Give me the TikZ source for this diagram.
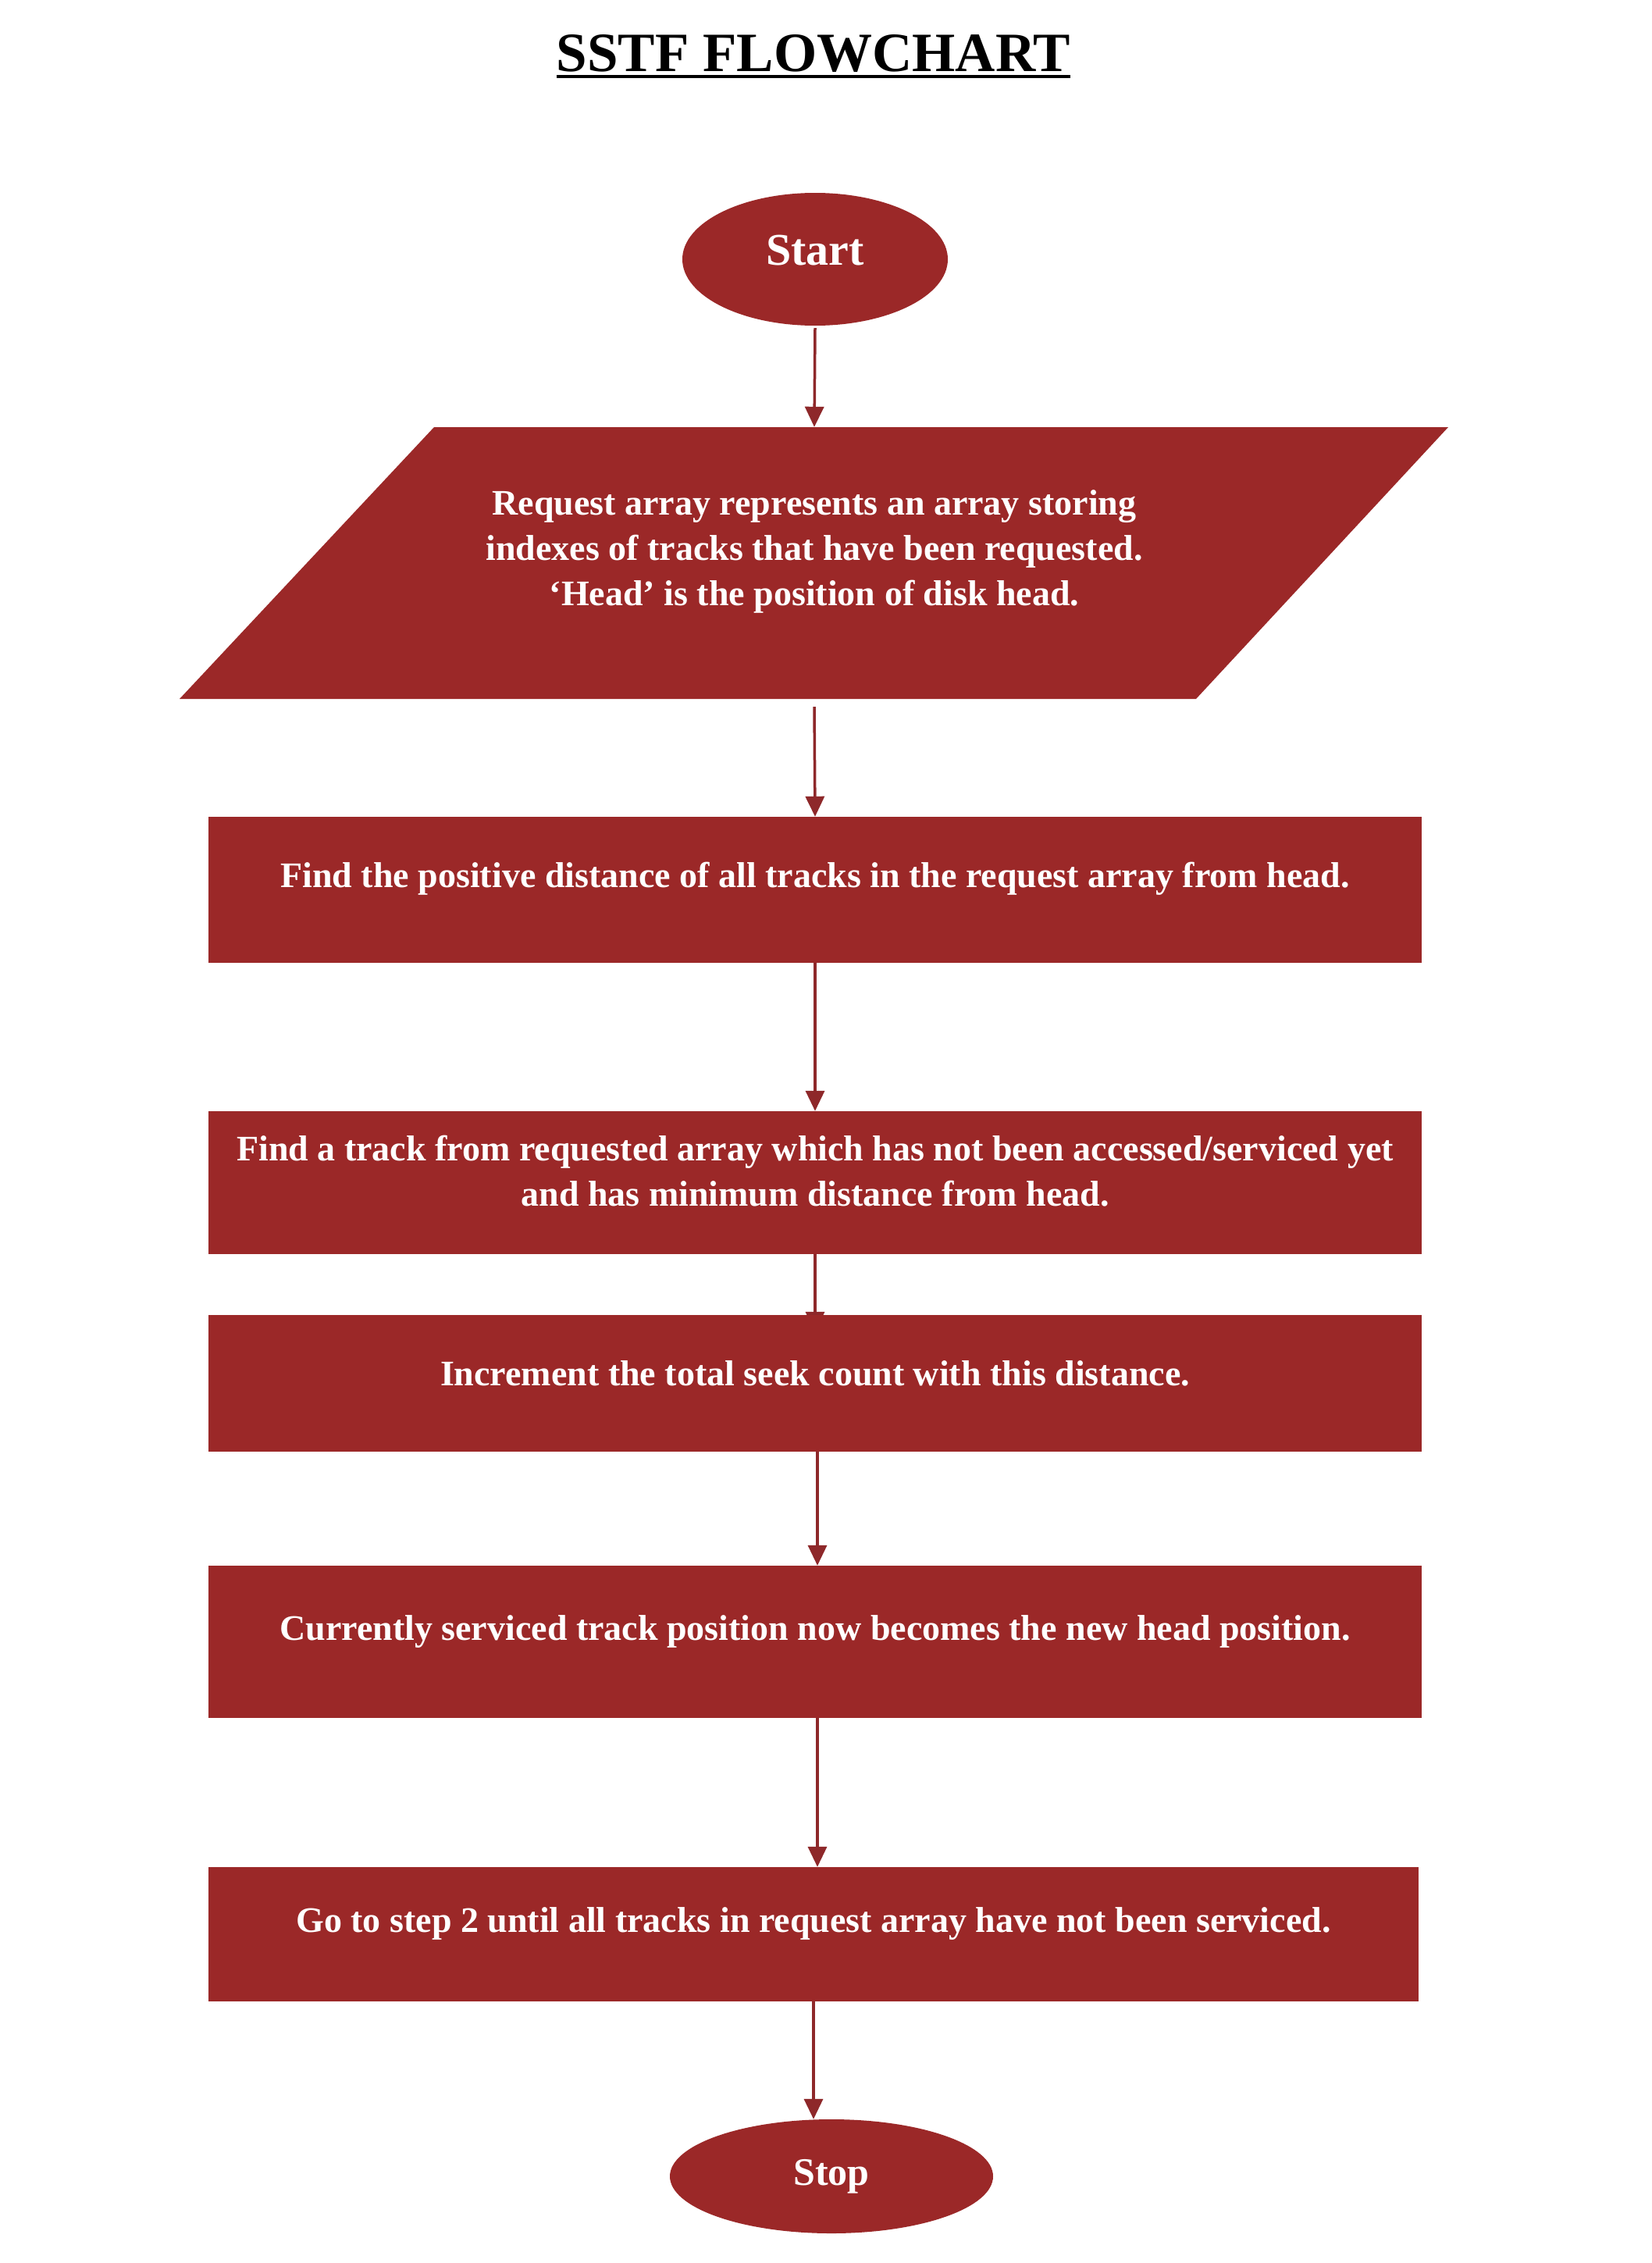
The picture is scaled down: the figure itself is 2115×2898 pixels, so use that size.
\documentclass[tikz,border=0pt]{standalone}
\usepackage{fontspec}
\setmainfont{Liberation Serif}
\usetikzlibrary{shapes.geometric,arrows.meta,backgrounds}
\definecolor{boxred}{RGB}{155,40,40}
\definecolor{arrred}{RGB}{142,40,42}
\begin{document}
\begin{tikzpicture}[x=1pt,y=-1pt,
  procbox/.style={rectangle, fill=boxred, draw=none, inner sep=0pt},
  terminal/.style={ellipse, fill=boxred, draw=none, inner sep=0pt},
  boxtxt/.style={text=white, font=\fontsize{46}{58}\selectfont\bfseries, align=center, inner sep=0pt},
  termtxt/.style={text=white, inner sep=0pt},
  arr/.style={draw=arrred, line width=3.5pt, -{Triangle[length=26pt,width=24pt]}},
  titletxt/.style={font=\fontsize{71}{80}\selectfont\bfseries, inner sep=0pt, anchor=base}
]
\useasboundingbox (0,0) rectangle (2115,2898);

% title
\node[titletxt] (title) at (1042,92) {SSTF FLOWCHART};
\draw[line width=4.5pt] ([yshift=-6pt]title.base west) -- ([yshift=-6pt]title.base east);

% start
\node[terminal, minimum width=340pt, minimum height=170pt] (start) at (1044,332) {};
\node[termtxt, font=\fontsize{58}{60}\selectfont\bfseries] (starttxt) at ([yshift=11pt]start.center) {Start};

% parallelogram
\fill[boxred] (556,547) -- (1855,547) -- (1532,895) -- (230,895) -- cycle;
\node[rectangle, inner sep=0pt, minimum width=1000pt, minimum height=348pt] (para) at (1043,721) {};
\node[boxtxt] (paratxt) at ([yshift=15pt]para.center) {Request array represents an array storing\\indexes of tracks that have been requested.\\‘Head’ is the position of disk head.};

% process boxes
\node[procbox, minimum width=1554pt, minimum height=187pt] (b1) at (1044,1139.5) {};
\node[boxtxt] (b1txt) at ([yshift=14pt]b1.center) {Find the positive distance of all tracks in the request array from head.};

\node[procbox, minimum width=1554pt, minimum height=183pt] (b2) at (1044,1514.5) {};
\node[boxtxt] (b2txt) at ([yshift=15pt]b2.center) {Find a track from requested array which has not been accessed/serviced yet\\and has minimum distance from head.};

\node[procbox, minimum width=1554pt, minimum height=175pt] (b3) at (1044,1771.5) {};
\node[boxtxt] (b3txt) at ([yshift=13pt]b3.center) {Increment the total seek count with this distance.};

\node[procbox, minimum width=1554pt, minimum height=195pt] (b4) at (1044,2102.5) {};
\node[boxtxt] (b4txt) at ([yshift=13pt]b4.center) {Currently serviced track position now becomes the new head position.};

\node[procbox, minimum width=1550pt, minimum height=172pt] (b5) at (1042,2477) {};
\node[boxtxt] (b5txt) at ([yshift=14pt]b5.center) {Go to step 2 until all tracks in request array have not been serviced.};

% stop
\node[terminal, minimum width=414pt, minimum height=146pt, text=white, font=\fontsize{50}{52}\selectfont\bfseries] (stop) at (1065,2787) {Stop};

% connectors
\begin{scope}[on background layer]
\draw[arr] ([yshift=-3pt]start.south) -- (para.north);
\draw[arr] ([yshift=-10pt]para.south) -- (b1.north);
\draw[arr] (b1.south) -- (b2.north);
\draw[arr] (b2.south) -- ([yshift=-22pt]b3.north);
\draw[arr] ([xshift=3pt]b3.south) -- ([xshift=3pt]b4.north);
\draw[arr] ([xshift=3pt]b4.south) -- ([xshift=5pt]b5.north);
\draw[arr] (b5.south) -- (b5.south |- stop.north);
\end{scope}
\end{tikzpicture}
\end{document}
